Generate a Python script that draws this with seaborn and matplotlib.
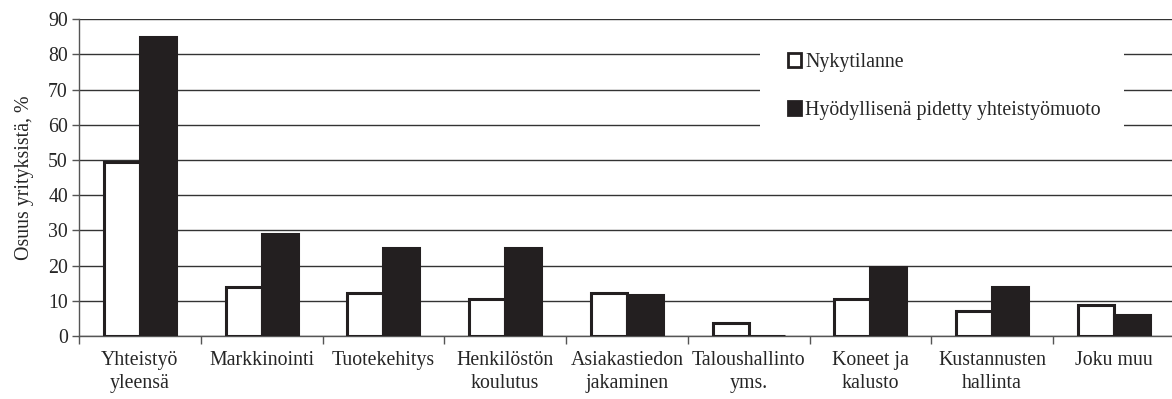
import matplotlib
matplotlib.use("Agg")
import matplotlib.pyplot as plt
import seaborn as sns
import pandas as pd
import numpy as np
from matplotlib.patches import Patch, Rectangle

categories = ["Yhteistyö\nyleensä", "Markkinointi", "Tuotekehitys", "Henkilöstön\nkoulutus",
              "Asiakastiedon\njakaminen", "Taloushallinto\nyms.", "Koneet ja\nkalusto",
              "Kustannusten\nhallinta", "Joku muu"]
nykytilanne = [49.3, 14.0, 12.3, 10.5, 12.2, 3.7, 10.5, 7.0, 8.8]
hyodyllinen = [85.0, 29.0, 25.0, 25.0, 11.5, 0.0, 19.5, 13.8, 6.0]
series_names = ["Nykytilanne", "Hyödyllisenä pidetty yhteistyömuoto"]
y_ticks = list(range(0, 91, 10))

sns.set_theme(style="white")
plt.rcParams["font.family"] = ["Liberation Serif", "DejaVu Serif"]
FS = 14.3

df = pd.DataFrame({
    "kategoria": categories * 2,
    "osuus": nykytilanne + hyodyllinen,
    "sarja": [series_names[0]] * len(categories) + [series_names[1]] * len(categories),
})

fig = plt.figure(figsize=(11.72, 3.99), dpi=100)
ax = fig.add_axes([0.0674, 0.158, 0.935, 0.794])

palette = {series_names[0]: "white", series_names[1]: "#231f20"}
sns.barplot(data=df, x="kategoria", y="osuus", hue="sarja", palette=palette,
            width=0.59, saturation=1, edgecolor="#231f20", linewidth=2.2,
            errorbar=None, legend=False, ax=ax, zorder=3)

ax.set_xlim(-0.5, len(categories) - 0.5)
ax.set_ylim(0, 90)
ax.set_yticks(y_ticks)
ax.tick_params(axis="y", labelsize=FS, length=5, width=1, color="#555555", left=True, pad=3)
ax.tick_params(axis="x", which="major", labelsize=FS, length=0, pad=11)
ax.set_xticks(np.arange(-0.5, len(categories), 1.0), minor=True)
ax.tick_params(axis="x", which="minor", length=6, width=1, color="#555555", bottom=True)
ax.set_xlabel("")
ax.set_ylabel("Osuus yrityksistä, %", fontsize=FS, labelpad=10)
for lbl in ax.get_xticklabels():
    lbl.set_linespacing(1.3)

ax.yaxis.grid(True, color="#333333", linewidth=1.0, zorder=0)
ax.set_axisbelow(True)
for side in ["top", "right"]:
    ax.spines[side].set_visible(False)
for side in ["left", "bottom"]:
    ax.spines[side].set_color("#555555")
    ax.spines[side].set_linewidth(1.0)

# white panel behind the legend that interrupts the gridlines
ax.add_patch(Rectangle((5.09, 56), 2.99, 32, facecolor="white", edgecolor="none", zorder=2))

handles = [Patch(facecolor="white", edgecolor="#231f20", linewidth=2.0),
           Patch(facecolor="#231f20", edgecolor="#231f20", linewidth=2.0)]
leg = fig.legend(handles, series_names, loc="upper left", bbox_to_anchor=(0.672, 0.867),
                 frameon=False, fontsize=FS, handlelength=0.7, handleheight=0.7,
                 handletextpad=0.2, labelspacing=1.45, borderpad=0, borderaxespad=0)

fig.savefig("out.png", dpi=100, facecolor="white")
